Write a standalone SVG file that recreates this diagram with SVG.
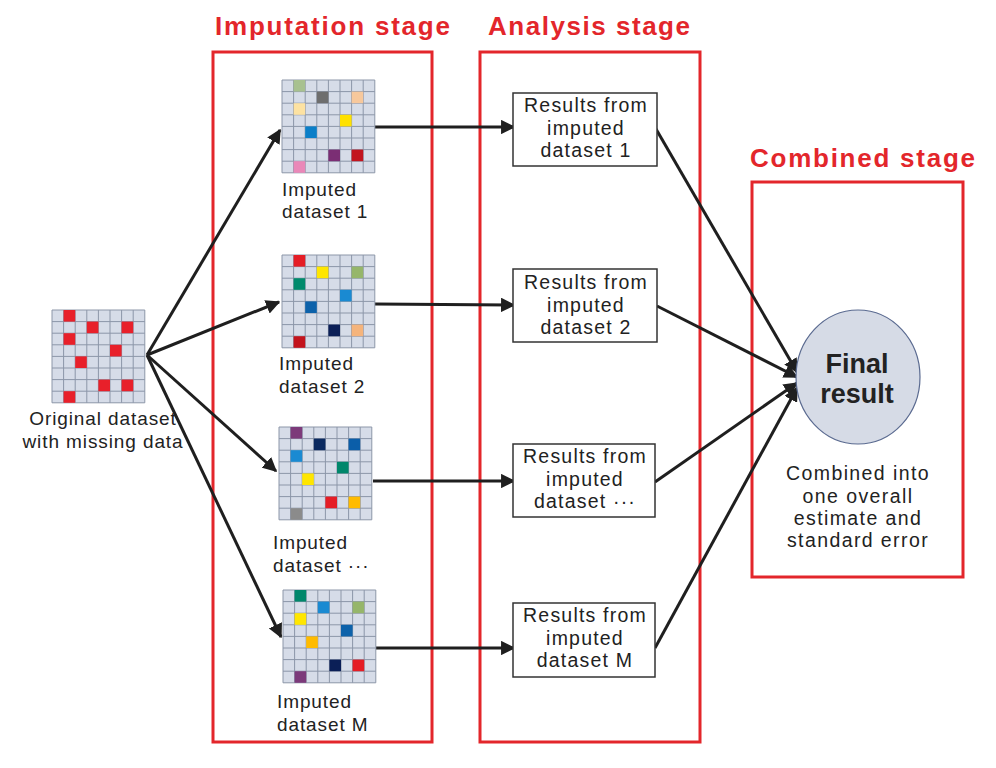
<svg xmlns="http://www.w3.org/2000/svg" xmlns:xlink="http://www.w3.org/1999/xlink" width="996" height="768" viewBox="0 0 996 768">
<style>
.stage{fill:none;stroke:#e3262b;stroke-width:3}
.title{font-family:"Liberation Sans",Arial,sans-serif;font-weight:bold;font-size:26px;fill:#e3262b}
.lbl{font-family:"Liberation Sans",Arial,sans-serif;font-size:19px;fill:#222;letter-spacing:0.9px}
.box{fill:#fff;stroke:#333;stroke-width:1.5}
.btxt{font-family:"Liberation Sans",Arial,sans-serif;font-size:19.5px;fill:#222;text-anchor:middle;letter-spacing:1.2px}
.conn{fill:none;stroke:#1f1f1f;stroke-width:3}
.gl{stroke:#8c96a8;stroke-width:1}
</style>
<defs>
<marker id="ah" viewBox="0 0 10 10" refX="9" refY="5" markerWidth="4.8" markerHeight="4.8" orient="auto" markerUnits="strokeWidth">
<path d="M0,0 L10,5 L0,10 z" fill="#1f1f1f"/>
</marker>
<g id="grid">
<rect x="0" y="0" width="92.8" height="92.8" fill="#d6dce8"/>
<path class="gl" d="M0,0V92.8M11.6,0V92.8M23.2,0V92.8M34.8,0V92.8M46.4,0V92.8M58,0V92.8M69.6,0V92.8M81.2,0V92.8M92.8,0V92.8M0,0H92.8M0,11.6H92.8M0,23.2H92.8M0,34.8H92.8M0,46.4H92.8M0,58H92.8M0,69.6H92.8M0,81.2H92.8M0,92.8H92.8"/>
</g>
</defs>
<rect width="996" height="768" fill="#fff"/>

<g id="stages">
<rect class="stage" x="213" y="52" width="219" height="690"/>
<rect class="stage" x="480" y="52" width="220" height="690"/>
<rect class="stage" x="752" y="182" width="211" height="395"/>
<text class="title" x="215" y="35" textLength="235" lengthAdjust="spacing">Imputation stage</text>
<text class="title" x="488" y="35" textLength="202" lengthAdjust="spacing">Analysis stage</text>
<text class="title" x="750" y="167" textLength="225" lengthAdjust="spacing">Combined stage</text>
</g>

<g id="connectors">
<line class="conn" x1="147" y1="355" x2="280" y2="130" marker-end="url(#ah)"/>
<line class="conn" x1="147" y1="355" x2="279" y2="302" marker-end="url(#ah)"/>
<line class="conn" x1="147" y1="355" x2="276" y2="471" marker-end="url(#ah)"/>
<line class="conn" x1="147" y1="355" x2="281" y2="637" marker-end="url(#ah)"/>
<line class="conn" x1="375" y1="127" x2="514" y2="127" marker-end="url(#ah)"/>
<line class="conn" x1="375" y1="304" x2="514" y2="305" marker-end="url(#ah)"/>
<line class="conn" x1="373" y1="481" x2="514" y2="481" marker-end="url(#ah)"/>
<line class="conn" x1="376" y1="648" x2="514" y2="648" marker-end="url(#ah)"/>
<line class="conn" x1="656" y1="129" x2="797" y2="372" marker-end="url(#ah)"/>
<line class="conn" x1="657" y1="306" x2="797" y2="377" marker-end="url(#ah)"/>
<line class="conn" x1="655" y1="482" x2="797" y2="383" marker-end="url(#ah)"/>
<line class="conn" x1="655" y1="648" x2="797" y2="388" marker-end="url(#ah)"/>
</g>

<g id="original">
<use xlink:href="#grid" x="52" y="310"/>
<g fill="#e8202a" transform="translate(52,310)">
<rect x="11.6" y="0" width="11.6" height="11.6"/>
<rect x="34.8" y="11.6" width="11.6" height="11.6"/>
<rect x="69.6" y="11.6" width="11.6" height="11.6"/>
<rect x="11.6" y="23.2" width="11.6" height="11.6"/>
<rect x="58" y="34.8" width="11.6" height="11.6"/>
<rect x="23.2" y="46.4" width="11.6" height="11.6"/>
<rect x="46.4" y="69.6" width="11.6" height="11.6"/>
<rect x="69.6" y="69.6" width="11.6" height="11.6"/>
<rect x="11.6" y="81.2" width="11.6" height="11.6"/>
</g>
<text class="lbl" x="103" y="425" text-anchor="middle" font-size="17">Original dataset</text>
<text class="lbl" x="103" y="448" text-anchor="middle" font-size="17">with missing data</text>
</g>

<g id="imputed1">
<use xlink:href="#grid" x="282" y="80"/>
<g transform="translate(282,80)">
<rect x="11.6" y="0" width="11.6" height="11.6" fill="#a8c190"/>
<rect x="34.8" y="11.6" width="11.6" height="11.6" fill="#6e6e6e"/>
<rect x="69.6" y="11.6" width="11.6" height="11.6" fill="#f7c89c"/>
<rect x="11.6" y="23.2" width="11.6" height="11.6" fill="#fde2a2"/>
<rect x="58" y="34.8" width="11.6" height="11.6" fill="#ffe100"/>
<rect x="23.2" y="46.4" width="11.6" height="11.6" fill="#0b7fc8"/>
<rect x="46.4" y="69.6" width="11.6" height="11.6" fill="#7b2e74"/>
<rect x="69.6" y="69.6" width="11.6" height="11.6" fill="#c2141e"/>
<rect x="11.6" y="81.2" width="11.6" height="11.6" fill="#ea88b8"/>
</g>
<text class="lbl" x="282" y="196">Imputed</text>
<text class="lbl" x="282" y="218">dataset 1</text>
</g>

<g id="imputed2">
<use xlink:href="#grid" x="282" y="255"/>
<g transform="translate(282,255)">
<rect x="11.6" y="0" width="11.6" height="11.6" fill="#e51d25"/>
<rect x="34.8" y="11.6" width="11.6" height="11.6" fill="#ffe600"/>
<rect x="69.6" y="11.6" width="11.6" height="11.6" fill="#96b66a"/>
<rect x="11.6" y="23.2" width="11.6" height="11.6" fill="#008a6c"/>
<rect x="58" y="34.8" width="11.6" height="11.6" fill="#1a8ad2"/>
<rect x="23.2" y="46.4" width="11.6" height="11.6" fill="#0d62aa"/>
<rect x="46.4" y="69.6" width="11.6" height="11.6" fill="#0b1f57"/>
<rect x="69.6" y="69.6" width="11.6" height="11.6" fill="#f5b47c"/>
<rect x="11.6" y="81.2" width="11.6" height="11.6" fill="#c3131c"/>
</g>
<text class="lbl" x="279" y="370">Imputed</text>
<text class="lbl" x="279" y="393">dataset 2</text>
</g>

<g id="imputed3">
<use xlink:href="#grid" x="279" y="427"/>
<g transform="translate(279,427)">
<rect x="11.6" y="0" width="11.6" height="11.6" fill="#7c3a7a"/>
<rect x="34.8" y="11.6" width="11.6" height="11.6" fill="#0b2a60"/>
<rect x="69.6" y="11.6" width="11.6" height="11.6" fill="#0b5ea9"/>
<rect x="11.6" y="23.2" width="11.6" height="11.6" fill="#1a8ad2"/>
<rect x="58" y="34.8" width="11.6" height="11.6" fill="#00876b"/>
<rect x="23.2" y="46.4" width="11.6" height="11.6" fill="#ffe600"/>
<rect x="46.4" y="69.6" width="11.6" height="11.6" fill="#e51d25"/>
<rect x="69.6" y="69.6" width="11.6" height="11.6" fill="#ffbb00"/>
<rect x="11.6" y="81.2" width="11.6" height="11.6" fill="#8b8b8b"/>
</g>
<text class="lbl" x="273" y="549">Imputed</text>
<text class="lbl" x="273" y="572">dataset ···</text>
</g>

<g id="imputedM">
<use xlink:href="#grid" x="283" y="590"/>
<g transform="translate(283,590)">
<rect x="11.6" y="0" width="11.6" height="11.6" fill="#00876b"/>
<rect x="34.8" y="11.6" width="11.6" height="11.6" fill="#1a8ad2"/>
<rect x="69.6" y="11.6" width="11.6" height="11.6" fill="#96b66a"/>
<rect x="11.6" y="23.2" width="11.6" height="11.6" fill="#ffe600"/>
<rect x="58" y="34.8" width="11.6" height="11.6" fill="#0d62aa"/>
<rect x="23.2" y="46.4" width="11.6" height="11.6" fill="#ffbb00"/>
<rect x="46.4" y="69.6" width="11.6" height="11.6" fill="#0b1f57"/>
<rect x="69.6" y="69.6" width="11.6" height="11.6" fill="#e51d25"/>
<rect x="11.6" y="81.2" width="11.6" height="11.6" fill="#7c3a7a"/>
</g>
<text class="lbl" x="277" y="708">Imputed</text>
<text class="lbl" x="277" y="731">dataset M</text>
</g>

<g id="result1">
<rect class="box" x="513" y="93" width="144" height="73"/>
<text class="btxt" x="586" y="112">Results from</text>
<text class="btxt" x="586" y="135">imputed</text>
<text class="btxt" x="586" y="157">dataset 1</text>
</g>
<g id="result2">
<rect class="box" x="513" y="269" width="144" height="73"/>
<text class="btxt" x="586" y="289">Results from</text>
<text class="btxt" x="586" y="312">imputed</text>
<text class="btxt" x="586" y="334">dataset 2</text>
</g>
<g id="result3">
<rect class="box" x="513" y="444" width="142" height="73"/>
<text class="btxt" x="585" y="463">Results from</text>
<text class="btxt" x="585" y="486">imputed</text>
<text class="btxt" x="585" y="508">dataset ···</text>
</g>
<g id="resultM">
<rect class="box" x="513" y="603" width="142" height="74"/>
<text class="btxt" x="585" y="622">Results from</text>
<text class="btxt" x="585" y="645">imputed</text>
<text class="btxt" x="585" y="667">dataset M</text>
</g>

<g id="final">
<ellipse cx="858" cy="377" rx="62" ry="67" fill="#d6dbe6" stroke="#5a6a90" stroke-width="1.2"/>
<text x="857" y="373" text-anchor="middle" font-family="Liberation Sans,Arial,sans-serif" font-weight="bold" font-size="27" fill="#222">Final</text>
<text x="857" y="403" text-anchor="middle" font-family="Liberation Sans,Arial,sans-serif" font-weight="bold" font-size="27" fill="#222">result</text>
<text class="btxt" x="858" y="480" font-size="18" style="letter-spacing:1.4px">Combined into</text>
<text class="btxt" x="858" y="503" font-size="18" style="letter-spacing:1.4px">one overall</text>
<text class="btxt" x="858" y="525" font-size="18" style="letter-spacing:1.4px">estimate and</text>
<text class="btxt" x="858" y="547" font-size="18" style="letter-spacing:1.4px">standard error</text>
</g>
</svg>
